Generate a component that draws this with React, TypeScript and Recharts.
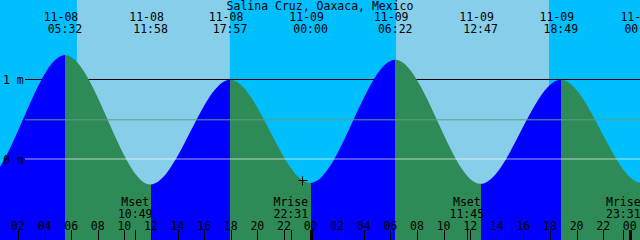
import React from 'react';
import {
  ComposedChart,
  Area,
  XAxis,
  YAxis,
  ReferenceArea,
  ReferenceLine,
  ReferenceDot,
} from 'recharts';

// hours counted from 11-08 00:00
const X_MIN = 0.65;
const X_MAX = 48.77;
const Y_MIN = -1.0125;
const Y_MAX = 1.9875;

// high / low tide events (the outer ones lie outside the window)
const tideTimes = [-6.9, -0.75, 5.533, 11.967, 17.95, 24.0, 30.367, 36.783, 42.817, 48.9, 55.2];
const tideLevels = [1.0, -0.3, 1.3, -0.32, 0.99, -0.3, 1.24, -0.31, 0.99, -0.3, 1.2];
const tideDates = ['11-07', '11-07', '11-08', '11-08', '11-08', '11-09', '11-09', '11-09', '11-09', '11-10', '11-10'];
const tideClock = ['17:06', '23:15', '05:32', '11:58', '17:57', '00:00', '06:22', '12:47', '18:49', '00:54', '07:12'];

const sunriseTimes = [6.43, 30.43];
const sunsetTimes = [17.93, 41.93];

const moonTimes = [10.817, 22.517, 35.75, 47.517];
const moonNames = ['Mset', 'Mrise', 'Mset', 'Mrise'];
const moonClock = ['10:49', '22:31', '11:45', '23:31'];

const hourTicks = [2, 4, 6, 8, 10, 12, 14, 16, 18, 20, 22, 24, 26, 28, 30, 32, 34, 36, 38, 40, 42, 44, 46, 48];

const levelTicks = [0, 1];
const datumLevel = 1;
const meanLevel = 0.49;
const lineStart = 2.53;

const markTime = 23.36;
const markLevel = -0.26;

const NIGHT = '#00bfff';
const DAY = '#87ceeb';
const RISING = '#0000ff';
const FALLING = '#2e8b57';
const FONT = "'DejaVu Sans Mono', monospace";

const rows = tideTimes.map((t, i) => ({ t, level: tideLevels[i] }));
const labelTimes = tideTimes.filter((t) => t > X_MIN && t < X_MAX + 1);

const frac = (t: number) => Math.min(1, Math.max(0, (t - X_MIN) / (X_MAX - X_MIN)));

const stops: { offset: number; color: string }[] = [];
for (let i = 0; i < tideTimes.length - 1; i++) {
  const color = tideLevels[i + 1] > tideLevels[i] ? RISING : FALLING;
  stops.push({ offset: frac(tideTimes[i]), color });
  stops.push({ offset: frac(tideTimes[i + 1]), color });
}

const txt = { fontFamily: FONT, fontSize: 11.5, fill: '#000' };

const BottomTick = (props: any) => {
  const { x, payload } = props;
  const v = payload.value as number;
  const px = Math.round(x) + 0.5;
  const mi = moonTimes.indexOf(v);
  if (mi >= 0) {
    return (
      <g>
        <line x1={px} x2={px} y1={230} y2={240} stroke="#000" />
        <text x={x} y={206} textAnchor="middle" {...txt}>{moonNames[mi]}</text>
        <text x={x} y={218} textAnchor="middle" {...txt}>{moonClock[mi]}</text>
      </g>
    );
  }
  const h = v % 24;
  return (
    <g>
      {h === 0 ? (
        <rect x={Math.round(x) - 1} y={230} width={3} height={10} fill="#000" />
      ) : (
        <line x1={px} x2={px} y1={230} y2={240} stroke="#000" />
      )}
      <text x={x} y={229.5} textAnchor="middle" {...txt}>{String(h).padStart(2, '0')}</text>
    </g>
  );
};

const TopTick = (props: any) => {
  const { x, payload } = props;
  const i = tideTimes.indexOf(payload.value);
  if (i < 0) return null;
  return (
    <g>
      <text x={x - 4} y={21} textAnchor="middle" {...txt}>{tideDates[i]}</text>
      <text x={x} y={33} textAnchor="middle" {...txt}>{tideClock[i]}</text>
    </g>
  );
};

const LevelTick = (props: any) => {
  const { y, payload } = props;
  return (
    <text x={3} y={y + 4.5} textAnchor="start" {...txt}>{`${payload.value} m`}</text>
  );
};

const Plus = (props: any) => {
  const cx = Math.round(props.cx) + 0.5;
  const cy = Math.round(props.cy) + 0.5;
  return (
    <g>
      <line x1={cx - 4} x2={cx + 5} y1={cy} y2={cy} stroke="#000" />
      <line x1={cx} x2={cx} y1={cy - 4} y2={cy + 5} stroke="#000" />
    </g>
  );
};

export default function App() {
  return (
    <div style={{ position: 'relative', width: 640, height: 240, background: NIGHT }}>
      <style>{'body{margin:0}'}</style>
      <ComposedChart width={640} height={240} data={rows} margin={{ top: 0, right: 0, bottom: 0, left: 0 }}>
        <defs>
          <linearGradient id="tideFill" gradientUnits="userSpaceOnUse" x1={0} y1={0} x2={640} y2={0}>
            {stops.map((s, i) => (
              <stop key={i} offset={s.offset} stopColor={s.color} />
            ))}
          </linearGradient>
        </defs>
        <XAxis
          type="number"
          dataKey="t"
          domain={[X_MIN, X_MAX]}
          allowDataOverflow
          orientation="bottom"
          mirror
          height={40}
          ticks={[...hourTicks, ...moonTimes]}
          interval={0}
          axisLine={false}
          tickLine={false}
          tick={(p: any) => <BottomTick {...p} />}
        />
        <XAxis
          xAxisId="top"
          type="number"
          dataKey="t"
          domain={[X_MIN, X_MAX]}
          allowDataOverflow
          orientation="top"
          mirror
          height={40}
          ticks={labelTimes}
          interval={0}
          axisLine={false}
          tickLine={false}
          tick={(p: any) => <TopTick {...p} />}
        />
        <YAxis
          type="number"
          domain={[Y_MIN, Y_MAX]}
          allowDataOverflow
          mirror
          width={25}
          ticks={levelTicks}
          interval={0}
          axisLine={false}
          tickLine={false}
          tick={(p: any) => <LevelTick {...p} />}
        />
        {sunriseTimes.map((s, i) => (
          <ReferenceArea key={i} x1={s} x2={sunsetTimes[i]} fill={DAY} fillOpacity={1} stroke="none" ifOverflow="hidden" />
        ))}
        {/* 1 m line: a one pixel band in the background layer, hidden by the tide */}
        <ReferenceArea x1={lineStart} x2={X_MAX} y1={datumLevel - 0.0125} y2={datumLevel} fill="#000" fillOpacity={1} stroke="none" ifOverflow="hidden" />
        <Area
          type="monotone"
          dataKey="level"
          baseValue={Y_MIN}
          fill="url(#tideFill)"
          fillOpacity={1}
          stroke="none"
          dot={false}
          activeDot={false}
          isAnimationActive={false}
        />
        <ReferenceLine segment={[{ x: lineStart, y: meanLevel }, { x: X_MAX, y: meanLevel }]} stroke="#5a9e88" />
        <ReferenceLine segment={[{ x: lineStart, y: 0 }, { x: X_MAX, y: 0 }]} stroke="#ffffff" strokeOpacity={0.65} />
        <ReferenceDot x={markTime} y={markLevel} shape={(p: any) => <Plus {...p} />} />
      </ComposedChart>
      <div
        style={{
          position: 'absolute',
          top: 0,
          left: 0,
          width: 640,
          textAlign: 'center',
          fontFamily: FONT,
          fontSize: 11.5,
          lineHeight: '12px',
          color: '#000',
        }}
      >
        Salina Cruz, Oaxaca, Mexico
      </div>
    </div>
  );
}
